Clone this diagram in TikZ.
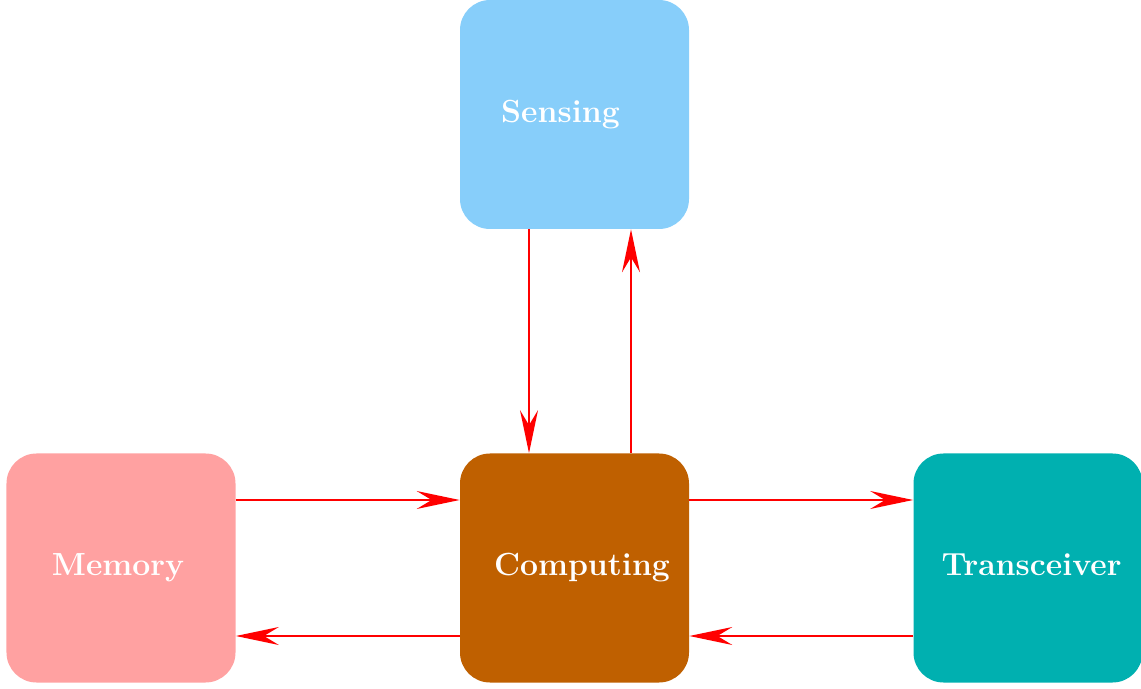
\documentclass[tikz,border=0pt]{standalone}
\usepackage{tikz}
\usetikzlibrary{arrows.meta}
\definecolor{sensingblue}{RGB}{135,206,250}
\definecolor{memorypink}{RGB}{255,161,161}
\definecolor{computingbrown}{RGB}{191,96,0}
\definecolor{transceiverteal}{RGB}{0,176,176}
\tikzstyle{unit} = [rectangle, rounded corners=0.6cm, minimum width=4.58cm, minimum height=4.58cm, inner sep=0pt, draw=none]
\tikzstyle{unitlabel} = [text=white, font=\fontsize{18.2}{22}\selectfont\bfseries, inner sep=0pt]
\tikzstyle{arrow} = [draw=red, line width=1pt, -{Stealth[length=0.86cm, width=0.36cm, inset=0.3cm]}]

\begin{document}
\begin{tikzpicture}[node distance=9.07cm]
        \useasboundingbox (0,0) rectangle (22.82,13.76);
        \node (memory) [unit, fill=memorypink] at (2.42,2.4) {};
        \node (computing) [unit, fill=computingbrown, right of=memory] {};
        \node (transceiver) [unit, fill=transceiverteal, right of=computing] {};
        \node (sensing) [unit, fill=sensingblue, above of=computing] {};

        \node (sensingtxt) [unitlabel] at ([xshift=-0.28cm]sensing.center) {Sensing};
        \node (memorytxt) [unitlabel] at ([xshift=-0.06cm]memory.center) {Memory};
        \node (computingtxt) [unitlabel] at ([xshift=0.15cm]computing.center) {Computing};
        \node (transceivertxt) [unitlabel] at ([xshift=0.07cm, yshift=0.06cm]transceiver.center) {Transceiver};

        \draw [arrow] ([xshift=-0.91cm]sensing.south) -- ([xshift=-0.91cm]computing.north);
        \draw [arrow] ([xshift=1.13cm]computing.north) -- ([xshift=1.13cm]sensing.south);
        \draw [arrow] ([yshift=1.36cm]memory.east) -- ([yshift=1.36cm]computing.west);
        \draw [arrow] ([yshift=-1.36cm]computing.west) -- ([yshift=-1.36cm]memory.east);
        \draw [arrow] ([yshift=1.36cm]computing.east) -- ([yshift=1.36cm]transceiver.west);
        \draw [arrow] ([yshift=-1.36cm]transceiver.west) -- ([yshift=-1.36cm]computing.east);
    \end{tikzpicture}
\end{document}
